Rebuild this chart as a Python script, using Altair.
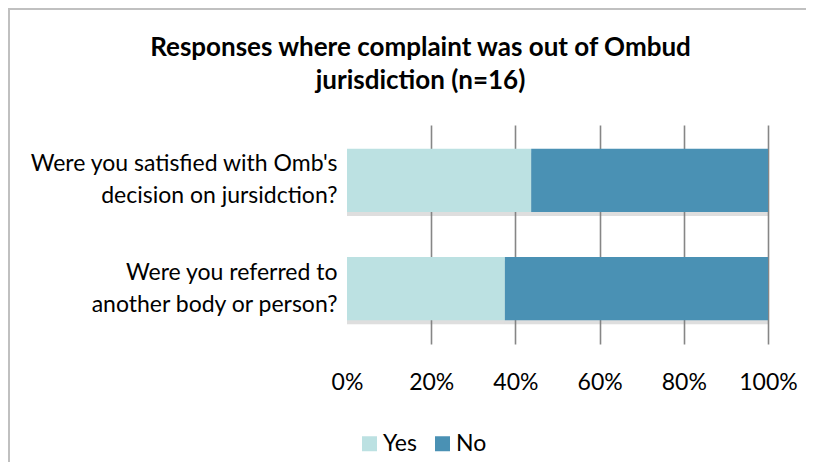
import altair as alt
import pandas as pd

questions = ["Were you satisfied with Omb's\ndecision on jursidction?",
             "Were you referred to\nanother body or person?"]
yes_counts = [7, 6]
no_counts = [9, 10]
responses = ["Yes", "No"]
colors = ["#BCE1E2", "#4A91B4"]
tick_values = [0, 0.2, 0.4, 0.6, 0.8, 1.0]
title_lines = ["Responses where complaint was out of Ombud", "jurisdiction (n=16)"]

rows = []
for q, yv, nv in zip(questions, yes_counts, no_counts):
    rows.append({"question": q, "response": "Yes", "count": yv, "ord": 0})
    rows.append({"question": q, "response": "No", "count": nv, "ord": 1})
df = pd.DataFrame(rows)

W, H = 421, 219
PAD = {"left": 339, "top": 117, "right": 38, "bottom": 118}
FONT = "Lato"
FS = 23

x_enc = alt.X(
    "count:Q", stack="normalize",
    scale=alt.Scale(domain=[0, 1], nice=False),
    axis=alt.Axis(values=tick_values, format=".0%", title=None, domain=False,
                  ticks=False, labelPadding=27, labelFontSize=FS, labelFont=FONT,
                  labelColor="#000000", labelFlush=False, grid=True,
                  gridColor={"condition": {"test": "datum.value === 0", "value": "transparent"},
                             "value": "#868686"},
                  gridWidth=1.6),
)
y_enc = alt.Y(
    "question:N", sort=questions,
    scale=alt.Scale(paddingInner=0.417, paddingOuter=0.22),
    axis=alt.Axis(title=None, domain=False, ticks=False,
                  labelExpr="split(datum.label, '\\n')",
                  labelFontSize=FS, labelLineHeight=32, labelPadding=10,
                  labelOffset=-16,
                  labelColor="#000000", labelFont=FONT, grid=False, labelLimit=400),
)

base = alt.Chart(df)

shadow = base.mark_bar(color="#7a7a7a", opacity=0.25, yOffset=4).encode(
    x=x_enc, y=y_enc, detail="response:N", order=alt.Order("ord:Q")
)

bars = base.mark_bar().encode(
    x=x_enc, y=y_enc,
    color=alt.Color("response:N", scale=alt.Scale(domain=responses, range=colors),
                    legend=alt.Legend(title=None, orient="none", legendX=11, legendY=307,
                                      direction="horizontal", symbolType="square",
                                      symbolSize=225, symbolStrokeWidth=0,
                                      labelFontSize=FS, labelFont=FONT,
                                      labelColor="#000000", labelOffset=2,
                                      columnPadding=14)),
    order=alt.Order("ord:Q"),
)

frame_df = pd.DataFrame({"k": [0]})
title = alt.Chart(frame_df).mark_text(
    text="\n".join(title_lines), lineBreak="\n", lineHeight=33,
    font=FONT, fontSize=26, fontWeight="bold", color="#000000",
    align="center", baseline="alphabetic",
).encode(x=alt.value(420.5 - 347), y=alt.value(56 - 125))

frame_top = alt.Chart(frame_df).mark_rule(color="#c0c0c0", strokeWidth=2).encode(
    x=alt.value(-PAD["left"]), x2=alt.value(W + PAD["right"]),
    y=alt.value(-PAD["top"] + 1), y2=alt.value(-PAD["top"] + 1))
frame_left = alt.Chart(frame_df).mark_rule(color="#c0c0c0", strokeWidth=2).encode(
    x=alt.value(-PAD["left"] + 1), x2=alt.value(-PAD["left"] + 1),
    y=alt.value(-PAD["top"]), y2=alt.value(H + PAD["bottom"]))

chart = alt.layer(shadow, bars, title, frame_top, frame_left).properties(
    width=W, height=H,
    padding=PAD,
    autosize=alt.AutoSizeParams(type="none"),
).configure(background="white").configure_view(strokeWidth=0, stroke="transparent")

chart.save("out.html", embed_options={"renderer": "svg", "actions": False})
